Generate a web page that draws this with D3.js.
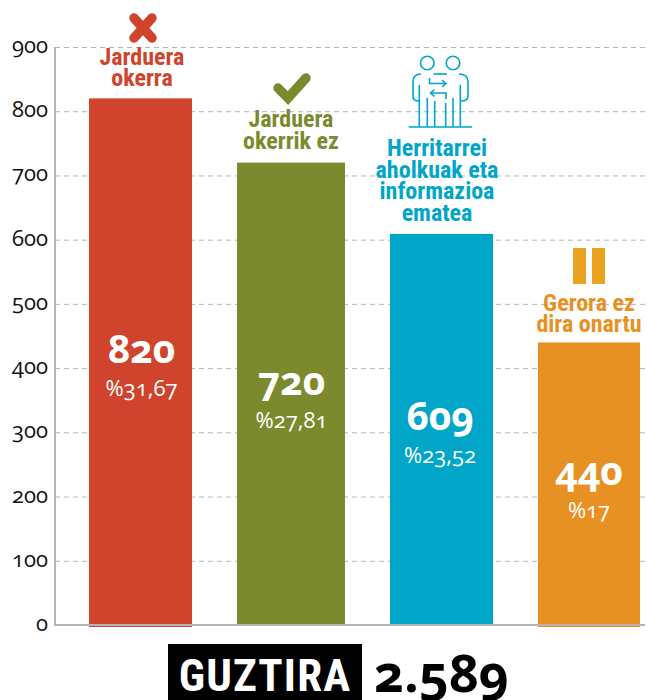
<!DOCTYPE html>
<html>
<head>
<meta charset="utf-8">
<script src="https://cdn.jsdelivr.net/npm/d3@7"></script>
<style>
  html, body { margin: 0; padding: 0; background: #fff; }
  svg { display: block; }
  .num { font-family: "Open Sans", sans-serif; font-variant-numeric: oldstyle-nums; font-feature-settings: "onum" 1; }
  .cond { font-family: "Roboto Condensed", Roboto, sans-serif; font-weight: 700; }
</style>
</head>
<body>
<div id="chart"></div>
<script>
let categories = ['okerra', 'okerrikEz', 'aholkuak', 'gerora'];
let values = [820, 720, 609, 440];
let percents = ['%31,67', '%27,81', '%23,52', '%17'];
let labels = [
  ['Jarduera', 'okerra'],
  ['Jarduera', 'okerrik ez'],
  ['Herritarrei', 'aholkuak eta', 'informazioa', 'ematea'],
  ['Gerora ez', 'dira onartu']
];
let yTicks = [0, 100, 200, 300, 400, 500, 600, 700, 800, 900];
let totalLabel = 'GUZTIRA';
let totalValue = '2.589';

let width = 647,
    height = 700;

let y = d3.scaleLinear().domain([0, 900]).range([625, 47]);
let barLeft = d3.scaleOrdinal().domain(categories).range([89, 237, 390, 538]);
let barRight = d3.scaleOrdinal().domain(categories).range([192, 345, 493, 640]);
let barOverrun = d3.scaleOrdinal().domain(categories).range([2, 0, 0, 2]);
let labelX = d3.scaleOrdinal().domain(categories).range([142, 291, 437, 589]);
let valueX = d3.scaleOrdinal().domain(categories).range([141.5, 291.5, 440, 589]);
let labelGap = d3.scaleOrdinal().domain(categories).range([12, 14, 13, 10]);
let color = d3.scaleOrdinal().domain(categories).range(['#d0432d', '#7a8a2c', '#00a5c8', '#e89123']);

let svg = d3.select('#chart')
  .append('svg')
    .attr('width', width)
    .attr('height', height);

// grid and axis
let yAxis = d3.axisLeft(y)
    .tickValues(yTicks)
    .tickSize(-590)
    .tickPadding(7);

let axisG = svg.append('g')
    .attr('transform', 'translate(55,0)')
    .call(yAxis);
axisG.select('.domain').remove();
axisG.selectAll('.tick line')
    .attr('stroke', '#b4b4b8')
    .attr('stroke-width', 1)
    .attr('stroke-dasharray', d => d === 0 ? null : '5,4');
axisG.selectAll('.tick text')
    .attr('class', 'num')
    .attr('fill', '#111')
    .attr('font-size', 22)
    .attr('dy', '0.25em');

let rows = categories.map((c, i) => ({key: c, value: values[i], pct: percents[i], label: labels[i]}));

let bar = svg.selectAll('g.bar')
  .data(rows)
  .enter().append('g')
    .attr('class', 'bar');

bar.append('rect')
    .attr('x', d => barLeft(d.key))
    .attr('y', d => y(d.value))
    .attr('width', d => barRight(d.key) - barLeft(d.key))
    .attr('height', d => y(0) - y(d.value) + barOverrun(d.key))
    .attr('fill', d => color(d.key));

bar.append('text')
    .attr('class', 'num')
    .attr('x', d => valueX(d.key))
    .attr('y', d => y(d.value / 2) + 1)
    .attr('text-anchor', 'middle')
    .attr('fill', '#fff')
    .attr('font-size', 39)
    .attr('font-weight', 700)
    .text(d => d.value);

bar.append('text')
    .attr('class', 'num')
    .attr('x', d => valueX(d.key))
    .attr('y', d => y(d.value / 2) + 34)
    .attr('text-anchor', 'middle')
    .attr('fill', '#fff')
    .attr('font-size', 22)
    .text(d => d.pct);

// category labels sit just above each bar
let lineH = 21.5;
bar.each(function(d) {
  let g = d3.select(this);
  d.label.forEach((line, i) => {
    g.append('text')
        .attr('class', 'cond')
        .attr('x', labelX(d.key))
        .attr('y', y(d.value) - labelGap(d.key) - (d.label.length - 1 - i) * lineH)
        .attr('text-anchor', 'middle')
        .attr('fill', color(d.key))
        .attr('font-size', 24)
        .text(line);
  });
});

// axis lines on top
svg.append('line').attr('x1', 55).attr('x2', 55).attr('y1', 47).attr('y2', 626)
    .attr('stroke', '#b4b4b8').attr('stroke-width', 2);
svg.append('line').attr('x1', 55).attr('x2', 645).attr('y1', y(0)).attr('y2', y(0))
    .attr('stroke', '#b4b4b8').attr('stroke-width', 2);

// icons
let icons = svg.append('g').attr('fill', 'none').attr('stroke-linecap', 'round');
icons.append('path')
    .attr('d', 'M134,18L152,38M152,18L134,38')
    .attr('stroke', color('okerra')).attr('stroke-width', 9.5);
icons.append('path')
    .attr('d', 'M278,88L288,98L306,78')
    .attr('stroke', color('okerrikEz')).attr('stroke-width', 9.5);
icons.append('rect').attr('x', 573).attr('y', 248).attr('width', 13).attr('height', 36).attr('rx', 1).attr('fill', '#eba21f');
icons.append('rect').attr('x', 592).attr('y', 248).attr('width', 13).attr('height', 36).attr('rx', 1).attr('fill', '#eba21f');

let people = icons.append('g').attr('stroke', color('aholkuak')).attr('stroke-width', 1.6).attr('stroke-linecap', 'butt');
people.append('circle').attr('cx', 427.3).attr('cy', 63).attr('r', 6.8);
people.append('circle').attr('cx', 453).attr('cy', 63).attr('r', 6.8);
people.append('path').attr('d', 'M408.7,127H472');
people.append('path').attr('d', 'M419.3,85V127M427.3,98V127M434.7,101V127M445.7,103V127M453,98V127M460.3,85V127');
people.append('path').attr('d', 'M421,74C415,74 413,77 413,82V96C413,100 416,101 419,101');
people.append('path').attr('d', 'M459,74C465,74 468,77 468,82V96C468,100 465,101 461,101');
people.append('path').attr('d', 'M433.5,74H447');
people.append('path').attr('d', 'M429.5,78V83.5H446M442,80L446,83.5L442,87');
people.append('path').attr('d', 'M446,99V93H430.5M434.5,89.5L430.5,93L434.5,96.5');

// total box
svg.append('rect').attr('x', 168).attr('y', 644).attr('width', 194).attr('height', 56).attr('fill', '#000');
svg.append('text')
    .attr('class', 'cond')
    .attr('x', 265).attr('y', 691)
    .attr('text-anchor', 'middle')
    .attr('fill', '#fff')
    .attr('font-size', 45)
    .attr('letter-spacing', 1.2)
    .text(totalLabel);
svg.append('text')
    .attr('class', 'num')
    .attr('x', 374).attr('y', 692)
    .attr('fill', '#000')
    .attr('font-size', 52)
    .attr('font-weight', 700)
    .text(totalValue);
</script>
</body>
</html>
